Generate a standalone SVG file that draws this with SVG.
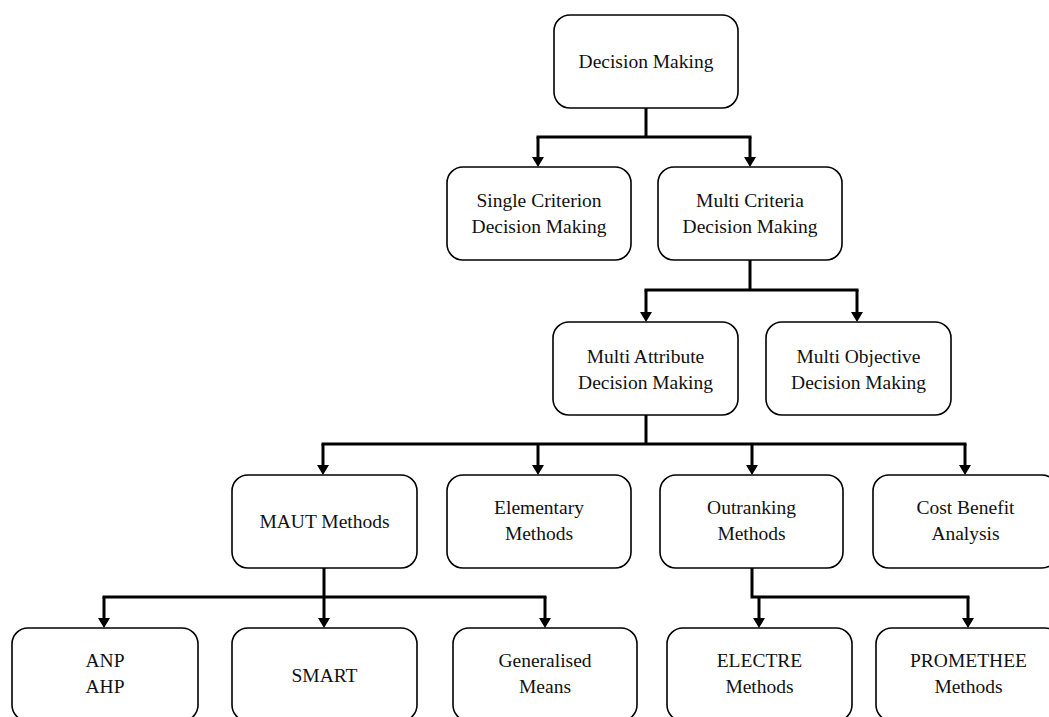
<svg xmlns="http://www.w3.org/2000/svg" width="1049" height="717" viewBox="0 0 1049 717">
  <style>
    .box { fill: #ffffff; stroke: #000000; stroke-width: 1.6; }
    .lbl { font-family: "Liberation Serif", "Times New Roman", serif; font-size: 19.5px; fill: #111111; text-anchor: middle; }
    .wire { fill: none; stroke: #000000; stroke-width: 3; stroke-linejoin: miter; stroke-linecap: square; }
    .drop { fill: none; stroke: #000000; stroke-width: 3; stroke-linecap: butt; marker-end: url(#tip); }
  </style>
  <defs>
    <marker id="tip" viewBox="0 0 10 12" refX="0" refY="6" markerWidth="10" markerHeight="12" markerUnits="userSpaceOnUse" orient="auto">
      <path d="M0,0 L10,6 L0,12 Z" fill="#000000"/>
    </marker>
  </defs>
  <rect width="1049" height="717" fill="#ffffff"/>

  <!-- connectors -->
  <g id="connectors">
    <!-- Decision Making -->
    <path class="wire" d="M646,108 V137 M538,137 H750"/>
    <path class="drop" d="M538,137 V157"/>
    <path class="drop" d="M750,137 V157"/>
    <!-- Multi Criteria -->
    <path class="wire" d="M750,260 V290 M646,290 H857"/>
    <path class="drop" d="M646,290 V312"/>
    <path class="drop" d="M857,290 V312"/>
    <!-- Multi Attribute -->
    <path class="wire" d="M646,415 V444 M323,444 H965"/>
    <path class="drop" d="M323,444 V465"/>
    <path class="drop" d="M538,444 V465"/>
    <path class="drop" d="M752,444 V465"/>
    <path class="drop" d="M965,444 V465"/>
    <!-- MAUT Methods -->
    <path class="wire" d="M324,568 V597 M104,597 H545"/>
    <path class="drop" d="M104,597 V618"/>
    <path class="drop" d="M324,597 V618"/>
    <path class="drop" d="M545,597 V618"/>
    <!-- Outranking Methods -->
    <path class="wire" d="M752,568 V597 H968"/>
    <path class="drop" d="M759,597 V618"/>
    <path class="drop" d="M968,597 V618"/>
  </g>

  <g id="decision-making">
    <rect class="box" x="554" y="15" width="184" height="93" rx="16"/>
    <text class="lbl" x="646" y="68">Decision Making</text>
  </g>
  <g id="single-criterion">
    <rect class="box" x="447" y="167" width="184" height="93" rx="16"/>
    <text class="lbl" x="539" y="207">Single Criterion</text>
    <text class="lbl" x="539" y="233">Decision Making</text>
  </g>
  <g id="multi-criteria">
    <rect class="box" x="658" y="167" width="184" height="93" rx="16"/>
    <text class="lbl" x="750" y="207">Multi Criteria</text>
    <text class="lbl" x="750" y="233">Decision Making</text>
  </g>
  <g id="multi-attribute">
    <rect class="box" x="553" y="322" width="185" height="93" rx="16"/>
    <text class="lbl" x="645.5" y="363">Multi Attribute</text>
    <text class="lbl" x="645.5" y="389">Decision Making</text>
  </g>
  <g id="multi-objective">
    <rect class="box" x="766" y="322" width="185" height="93" rx="16"/>
    <text class="lbl" x="858.5" y="363">Multi Objective</text>
    <text class="lbl" x="858.5" y="389">Decision Making</text>
  </g>
  <g id="maut-methods">
    <rect class="box" x="232" y="475" width="185" height="93" rx="16"/>
    <text class="lbl" x="324.5" y="528">MAUT Methods</text>
  </g>
  <g id="elementary-methods">
    <rect class="box" x="447" y="475" width="184" height="93" rx="16"/>
    <text class="lbl" x="539" y="514">Elementary</text>
    <text class="lbl" x="539" y="540">Methods</text>
  </g>
  <g id="outranking-methods">
    <rect class="box" x="660" y="475" width="183" height="93" rx="16"/>
    <text class="lbl" x="751.5" y="514">Outranking</text>
    <text class="lbl" x="751.5" y="540">Methods</text>
  </g>
  <g id="cost-benefit">
    <rect class="box" x="873" y="475" width="185" height="93" rx="16"/>
    <text class="lbl" x="965.5" y="514">Cost Benefit</text>
    <text class="lbl" x="965.5" y="540">Analysis</text>
  </g>
  <g id="anp-ahp">
    <rect class="box" x="12" y="628" width="186" height="93" rx="16"/>
    <text class="lbl" x="105" y="667">ANP</text>
    <text class="lbl" x="105" y="693">AHP</text>
  </g>
  <g id="smart">
    <rect class="box" x="232" y="628" width="185" height="93" rx="16"/>
    <text class="lbl" x="324.5" y="682">SMART</text>
  </g>
  <g id="generalised-means">
    <rect class="box" x="453" y="628" width="184" height="93" rx="16"/>
    <text class="lbl" x="545" y="667">Generalised</text>
    <text class="lbl" x="545" y="693">Means</text>
  </g>
  <g id="electre">
    <rect class="box" x="667" y="628" width="185" height="93" rx="16"/>
    <text class="lbl" x="759.5" y="667">ELECTRE</text>
    <text class="lbl" x="759.5" y="693">Methods</text>
  </g>
  <g id="promethee">
    <rect class="box" x="876" y="628" width="185" height="93" rx="16"/>
    <text class="lbl" x="968.5" y="667">PROMETHEE</text>
    <text class="lbl" x="968.5" y="693">Methods</text>
  </g>
</svg>
